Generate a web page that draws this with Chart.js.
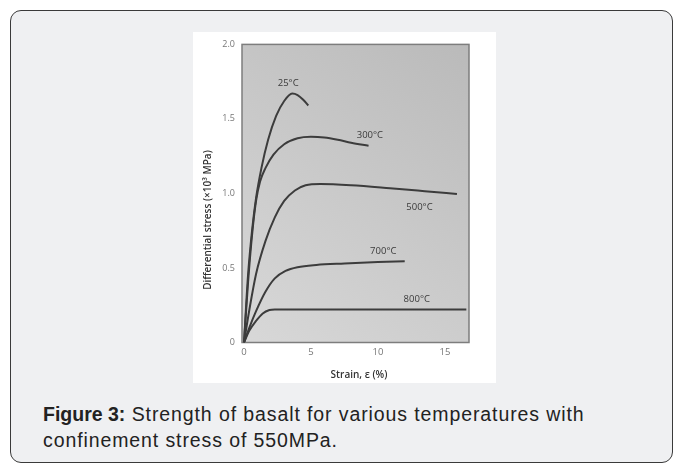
<!DOCTYPE html>
<html>
<head>
<meta charset="utf-8">
<script src="https://cdn.jsdelivr.net/npm/chart.js@4"></script>
<style>
  body { margin: 0; background: #fff; width: 674px; height: 464px; overflow: hidden; position: relative; font-family: "Liberation Sans", Arial, sans-serif; }
  #box { position: absolute; box-sizing: border-box; left: 10px; top: 10px; width: 663px; height: 453px; border: 1.3px solid #3a3a3a; border-radius: 11px; background: #eff0f2; }
  #fig { position: absolute; left: 193px; top: 32px; width: 303px; height: 351px; background: #fff; }
  #caption { position: absolute; left: 43px; top: 401px; font-size: 19.5px; line-height: 26px; color: #222; white-space: nowrap; }
  #caption span { letter-spacing: 0.9px; }
</style>
</head>
<body>
<div id="box"></div>
<div id="fig"><canvas id="chart" width="303" height="351"></canvas></div>
<div id="caption"><b>Figure 3:</b><span> Strength of basalt for various temperatures with<br>confinement stress of 550MPa.</span></div>
<script>
// strain (%) and differential stress (x10^3 MPa)
const strain_25 = [0, 0.3, 0.6, 0.9, 1.3, 1.8, 2.4, 3.0, 3.6, 4.0, 4.4, 4.8];
const stress_25 = [0, 0.45, 0.75, 0.97, 1.17, 1.36, 1.52, 1.62, 1.67, 1.66, 1.63, 1.59];
const strain_300 = [0, 0.3, 0.6, 0.9, 1.2, 1.6, 2.2, 3.0, 4.0, 5.0, 6.0, 7.0, 8.0, 9.3];
const stress_300 = [0, 0.4, 0.72, 0.95, 1.08, 1.17, 1.26, 1.33, 1.37, 1.38, 1.375, 1.36, 1.34, 1.32];
const strain_500 = [0, 0.4, 0.9, 1.6, 2.3, 3.0, 3.8, 4.6, 5.7, 8, 10.9, 13.5, 15.9];
const stress_500 = [0, 0.22, 0.46, 0.68, 0.84, 0.95, 1.02, 1.055, 1.063, 1.055, 1.035, 1.015, 0.996];
const strain_700 = [0, 0.4, 0.9, 1.6, 2.3, 3.1, 4.0, 5.4, 7.5, 10, 12];
const stress_700 = [0, 0.1, 0.21, 0.34, 0.43, 0.48, 0.505, 0.52, 0.53, 0.54, 0.545];
const strain_800 = [0, 0.4, 0.9, 1.4, 1.9, 2.3, 5, 10, 16.6];
const stress_800 = [0, 0.08, 0.145, 0.195, 0.218, 0.222, 0.222, 0.222, 0.222];

const curve_labels = ["25°C", "300°C", "500°C", "700°C", "800°C"];
const label_x = [3.3, 9.4, 13.1, 10.4, 12.9];
const label_y = [1.74, 1.39, 0.91, 0.61, 0.29];

const x_ticks = [0, 5, 10, 15];
const y_ticks = [0, 0.5, 1.0, 1.5, 2.0];
const x_title = "Strain, ε (%)";
const y_title = "Differential stress (×10³ MPa)";

const toPoints = (xs, ys) => xs.map((x, i) => ({x: x, y: ys[i]}));

// grey plot background, frame, curve labels and axis titles
const decor = {
  id: "decor",
  beforeDatasetsDraw(chart) {
    const {ctx, chartArea: a} = chart;
    ctx.save();
    const g = ctx.createLinearGradient(a.right, a.top, a.left, a.bottom);
    g.addColorStop(0, "#bababa");
    g.addColorStop(1, "#d8d8d8");
    ctx.fillStyle = g;
    ctx.fillRect(a.left, a.top, a.right - a.left, a.bottom - a.top);
    ctx.strokeStyle = "#7d7d7d";
    ctx.lineWidth = 1.5;
    ctx.strokeRect(a.left, a.top, a.right - a.left, a.bottom - a.top);
    ctx.restore();
  },
  afterDatasetsDraw(chart) {
    const {ctx, scales: {x, y}} = chart;
    ctx.save();
    ctx.fillStyle = "#3a3a3a";
    ctx.font = "9.5px 'Open Sans'";
    ctx.textAlign = "center";
    ctx.textBaseline = "middle";
    curve_labels.forEach((t, i) => {
      ctx.fillText(t, x.getPixelForValue(label_x[i]), y.getPixelForValue(label_y[i]));
    });
    ctx.fillStyle = "#333";
    ctx.font = "600 10px 'Open Sans'";
    ctx.fillText(x_title, 166, 343);
    ctx.translate(15, 188);
    ctx.rotate(-Math.PI / 2);
    ctx.fillText(y_title, 0, 0);
    ctx.restore();
  }
};

const lineStyle = {
  borderColor: "#3c3c3c",
  borderWidth: 2,
  pointRadius: 0,
  fill: false,
  cubicInterpolationMode: "monotone"
};

new Chart(document.getElementById("chart"), {
  type: "line",
  data: {
    datasets: [
      {label: curve_labels[0], data: toPoints(strain_25, stress_25), ...lineStyle},
      {label: curve_labels[1], data: toPoints(strain_300, stress_300), ...lineStyle},
      {label: curve_labels[2], data: toPoints(strain_500, stress_500), ...lineStyle},
      {label: curve_labels[3], data: toPoints(strain_700, stress_700), ...lineStyle},
      {label: curve_labels[4], data: toPoints(strain_800, stress_800), ...lineStyle}
    ]
  },
  options: {
    responsive: false,
    animation: false,
    devicePixelRatio: 1,
    layout: { padding: { left: 0, right: 27, top: 10, bottom: 0 } },
    plugins: { legend: { display: false }, tooltip: { enabled: false } },
    scales: {
      x: {
        type: "linear",
        min: -0.15,
        max: 16.8,
        grid: { display: false, drawTicks: false },
        border: { display: false },
        ticks: { color: "#777", font: { size: 9.5, family: "Open Sans" }, padding: 4 },
        afterBuildTicks: s => { s.ticks = x_ticks.map(v => ({value: v})); },
        afterFit: s => { s.height = 40.5; }
      },
      y: {
        type: "linear",
        min: 0,
        max: 2.0,
        grid: { display: false, drawTicks: false },
        border: { display: false },
        ticks: {
          color: "#777",
          font: { size: 9, family: "Open Sans" },
          padding: 7,
          callback: v => v === 0 ? "0" : v.toFixed(1)
        },
        afterBuildTicks: s => { s.ticks = y_ticks.map(v => ({value: v})); },
        afterFit: s => { s.width = 49; }
      }
    }
  },
  plugins: [decor]
});
</script>
</body>
</html>
